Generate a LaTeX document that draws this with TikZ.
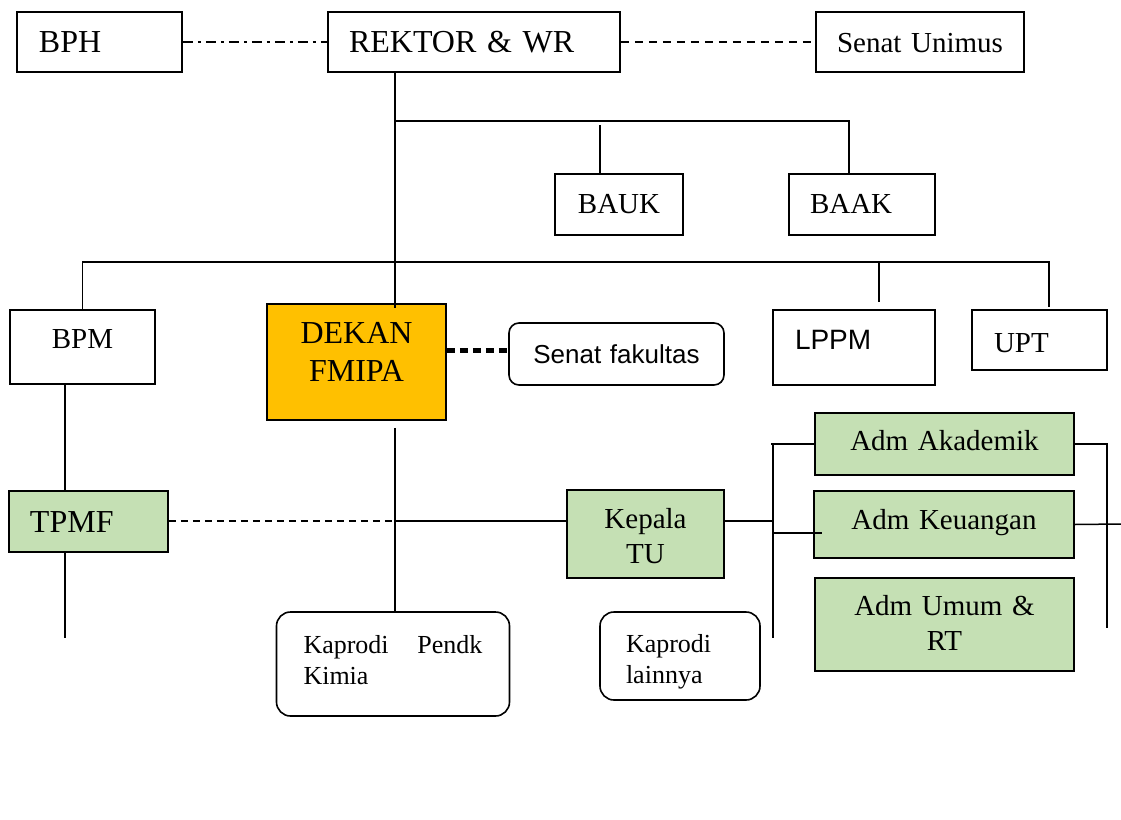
\documentclass[tikz,border=0pt]{standalone}
\usepackage{fontspec}
\setmainfont{Liberation Serif}
\setsansfont{Liberation Sans}
\usetikzlibrary{calc}

\definecolor{dekanorange}{HTML}{FFC000}
\definecolor{admgreen}{HTML}{C5E0B4}

\tikzset{
  box/.style={draw, rectangle, line width=0.8pt, inner ysep=0pt},
  gbox/.style={box, fill=admgreen},
  rbox/.style={box, rounded corners=6pt},
  txtbig/.style={font=\fontsize{16}{19}\selectfont},
  txtmid/.style={font=\fontsize{14.5}{17.5}\selectfont},
  txtsm/.style={font=\fontsize{13}{15.5}\selectfont},
  txtsans/.style={font=\sffamily\fontsize{13}{15.5}\selectfont},
  txtlppm/.style={font=\sffamily\fontsize{14}{17}\selectfont},
  dashdotline/.style={dash pattern=on 5pt off 2.5pt on 1.5pt off 2.5pt},
  dashline/.style={dash pattern=on 4pt off 3pt},
  dashline2/.style={dash pattern=on 3.5pt off 2.5pt},
  dotline/.style={line width=2.5pt, dash pattern=on 4pt off 2.5pt}
}

\begin{document}
\begin{tikzpicture}[x=0.5pt, y=-0.5pt, line width=0.75pt]
  \useasboundingbox (0,0) rectangle (1121,820);

  % pimpinan universitas
  \node[box, txtbig, align=left, text width=60.5pt, inner xsep=11pt, text height=20pt, text depth=10pt] (bph) at (99.5,42) {BPH};
  \node[box, txtbig, align=left, text width=125pt, inner xsep=10.5pt, text height=20pt, text depth=10pt] (rektor) at (474,42) {REKTOR \& WR};
  \node[box, txtmid, align=center, text width=94pt, inner xsep=5pt, text height=20pt, text depth=10pt] (senat) at (920,42) {Senat Unimus};
  \node[box, txtmid, align=center, text width=59pt, inner xsep=2.5pt, text height=19.5pt, text depth=11pt] (bauk) at (619,204.5) {BAUK};
  \node[box, txtmid, align=left, text width=52pt, inner xsep=10.5pt, text height=19.5pt, text depth=11pt] (baak) at (862,204.5) {BAAK};

  % unit di bawah rektor
  \node[box, txtmid, align=center, text width=67.5pt, inner xsep=2.5pt, text height=19pt, text depth=18pt] (bpm) at (82.5,347) {BPM};
  \node[box, fill=dekanorange, txtbig, align=center, text width=84.5pt, inner xsep=2.5pt, text height=19.5pt, text depth=38.5pt] (dekan) at (356.5,362) {DEKAN\\FMIPA};
  \node[rbox, rounded corners=5pt, txtsans, align=center, text width=102.5pt, inner xsep=2.5pt, text height=20pt, text depth=11pt] (fsenat) at (616.5,354) {Senat fakultas};
  \node[box, txtlppm, align=left, text width=59pt, inner xsep=11pt, text height=19.5pt, text depth=18pt] (lppm) at (854,347.5) {LPPM};
  \node[box, txtmid, align=left, text width=45.5pt, inner xsep=11pt, text height=21pt, text depth=9pt] (upt) at (1039.5,340) {UPT};

  % fakultas
  \node[gbox, txtbig, align=left, text width=58.5pt, inner xsep=10.5pt, text height=20.5pt, text depth=10pt] (tpmf) at (88.5,521.5) {TPMF};
  \node[gbox, txtmid, align=center, text width=73.5pt, inner xsep=2.5pt, text height=19pt, text depth=25pt] (kepala) at (645.5,534) {Kepala\\TU};
  \node[rbox, rounded corners=7pt, txtsm, align=left, text width=89.5pt, inner xsep=13.5pt, text height=20.5pt, text depth=31.5pt] (kimia) at (393,664) {Kaprodi\hfill Pendk\\Kimia};
  \node[rbox, rounded corners=7pt, txtsm, align=left, text width=54pt, inner xsep=13pt, text height=20pt, text depth=24pt] (lainnya) at (680,656) {Kaprodi\\lainnya};
  \node[gbox, txtmid, align=center, text width=124.5pt, inner xsep=2.5pt, text height=18.5pt, text depth=12.5pt] (akad) at (944.5,444) {Adm Akademik};
  \node[gbox, txtmid, align=center, text width=125pt, inner xsep=2.5pt, text height=19pt, text depth=14.5pt] (keu) at (944,524.5) {Adm Keuangan};
  \node[gbox, txtmid, align=center, text width=124.5pt, inner xsep=2.5pt, text height=18.5pt, text depth=28pt] (umum) at (944.5,624.5) {Adm Umum \&\\RT};

  % junctions and free ends
  \coordinate (jr) at (395,121);
  \coordinate (jb) at (395,262);
  \coordinate (jt) at (395,521);
  \coordinate (jl) at (65,638);
  \coordinate (jk) at (773,638);
  \coordinate (jd) at (1107,628);
  \coordinate (je) at (1121,524);

  % garis koordinasi
  \draw[dashdotline] (bph) -- (rektor);
  \draw[dashline] (rektor) -- (senat);
  \draw[dotline] ($(dekan.east |- fsenat.west)+(0,-4)$) -- ($(fsenat.west)+(0,-4)$);

  % garis komando
  \draw (rektor.south -| jr) -- ($(dekan.north -| jr)+(0,5)$);
  \draw (jr) -- ($(baak.north |- jr)+(-13,0)$) -- ($(baak.north)+(-13,0)$);
  \draw ($(bauk.north |- jr)+(-19,4)$) -- ($(bauk.north)+(-19,0)$);
  \draw (bpm.north) -- (bpm.north |- jb) -- ($(upt.north |- jb)+(9.5,0)$) -- ($(upt.north)+(9.5,-2)$);
  \draw ($(lppm.north |- jb)+(25,0)$) -- ($(lppm.north)+(25,-7)$);

  \draw (bpm.south -| jl) -- (tpmf.north -| jl);
  \draw (tpmf.south -| jl) -- (jl);
  \draw[dashline2] (tpmf.east |- jt) -- (jt);
  \draw (jt) -- (kepala.west |- jt);
  \draw ($(dekan.south -| jt)+(0,7)$) -- (kimia.north -| jt);

  \draw (kepala.east |- jt) -- (jt -| jk);
  \draw ($(akad.west -| jk)+(-2,0)$) -- (akad.west);
  \draw (akad.west -| jk) -- (jk);
  \draw ($(keu.west -| jk)+(0,8.5)$) -- ($(keu.west)+(9,8.5)$);
  \draw (akad.east) -- (akad.east -| jd) -- (jd);
  \draw (keu.east) -- (je);
\end{tikzpicture}
\end{document}
